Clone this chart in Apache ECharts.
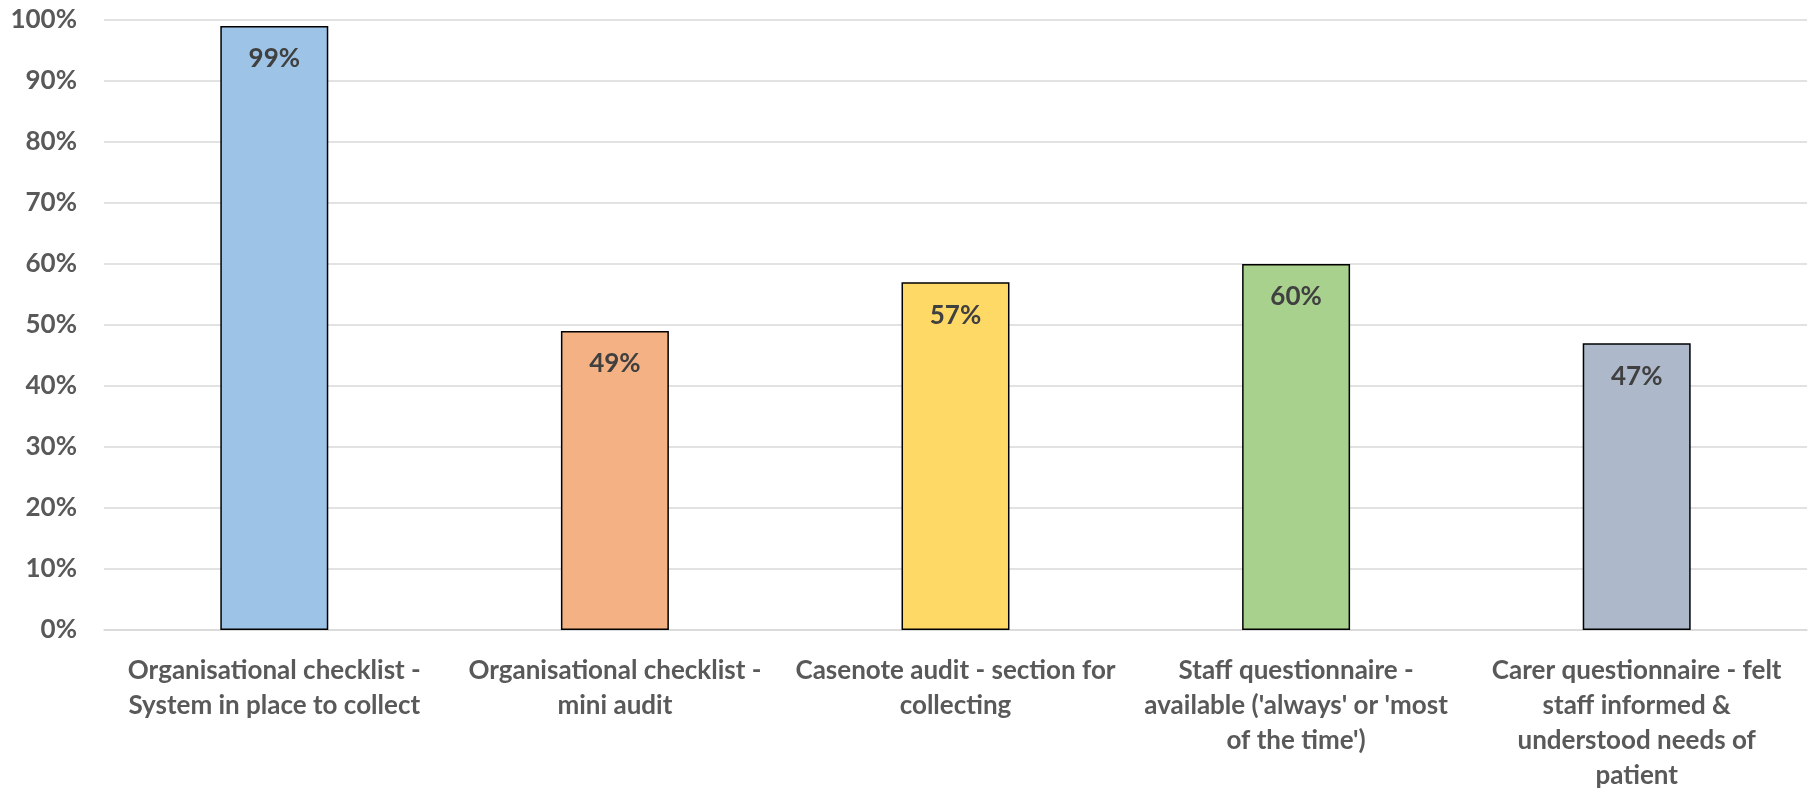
<!DOCTYPE html>
<html><head><meta charset="utf-8">
<script src="https://cdn.jsdelivr.net/npm/echarts@6/dist/echarts.min.js"></script>
<style>html,body{margin:0;padding:0;background:#fff}#c{width:1814px;height:793px}</style>
</head><body><div id="c"></div>
<script>
const categories = [
  "Organisational checklist -\nSystem in place to collect",
  "Organisational checklist -\nmini audit",
  "Casenote audit - section for\ncollecting",
  "Staff questionnaire -\navailable ('always' or 'most\nof the time')",
  "Carer questionnaire - felt\nstaff informed &\nunderstood needs of\npatient"
];
const values = [99, 49, 57, 60, 47];
const barColors = ["#9DC3E6", "#F4B183", "#FFD966", "#A9D18E", "#ADB9CA"];
const yTicks = [0, 10, 20, 30, 40, 50, 60, 70, 80, 90, 100];

const FONT = "Lato";
const chart = echarts.init(document.getElementById('c'));
chart.setOption({
  animation: false,
  grid: {left: 104, right: 7, top: 20, bottom: 161, containLabel: false},
  xAxis: {
    type: 'category', data: categories,
    axisLine: {show: true, lineStyle: {color: '#D9D9D9', width: 1.5}},
    axisTick: {show: false},
    axisLabel: {interval: 0, color: '#595959', fontFamily: FONT, fontWeight: 'bold', fontSize: 26, lineHeight: 35, margin: 23, align: 'center'}
  },
  yAxis: {
    type: 'value', min: yTicks[0], max: yTicks[yTicks.length - 1], interval: 10,
    axisLine: {show: false}, axisTick: {show: false},
    splitLine: {lineStyle: {color: '#D9D9D9', width: 1.5}},
    axisLabel: {color: '#595959', fontFamily: FONT, fontWeight: 'bold', fontSize: 26, margin: 27, formatter: v => v + '%'}
  },
  series: [{
    type: 'bar', barWidth: '31.7%',
    data: values.map((v, i) => ({value: v, itemStyle: {color: barColors[i]}})),
    itemStyle: {borderColor: '#000', borderWidth: 1.5},
    label: {show: true, position: 'insideTop', distance: 20, color: '#404040', fontFamily: FONT, fontWeight: 'bold', fontSize: 26, formatter: p => p.value + '%'}
  }]
});
</script></body></html>
